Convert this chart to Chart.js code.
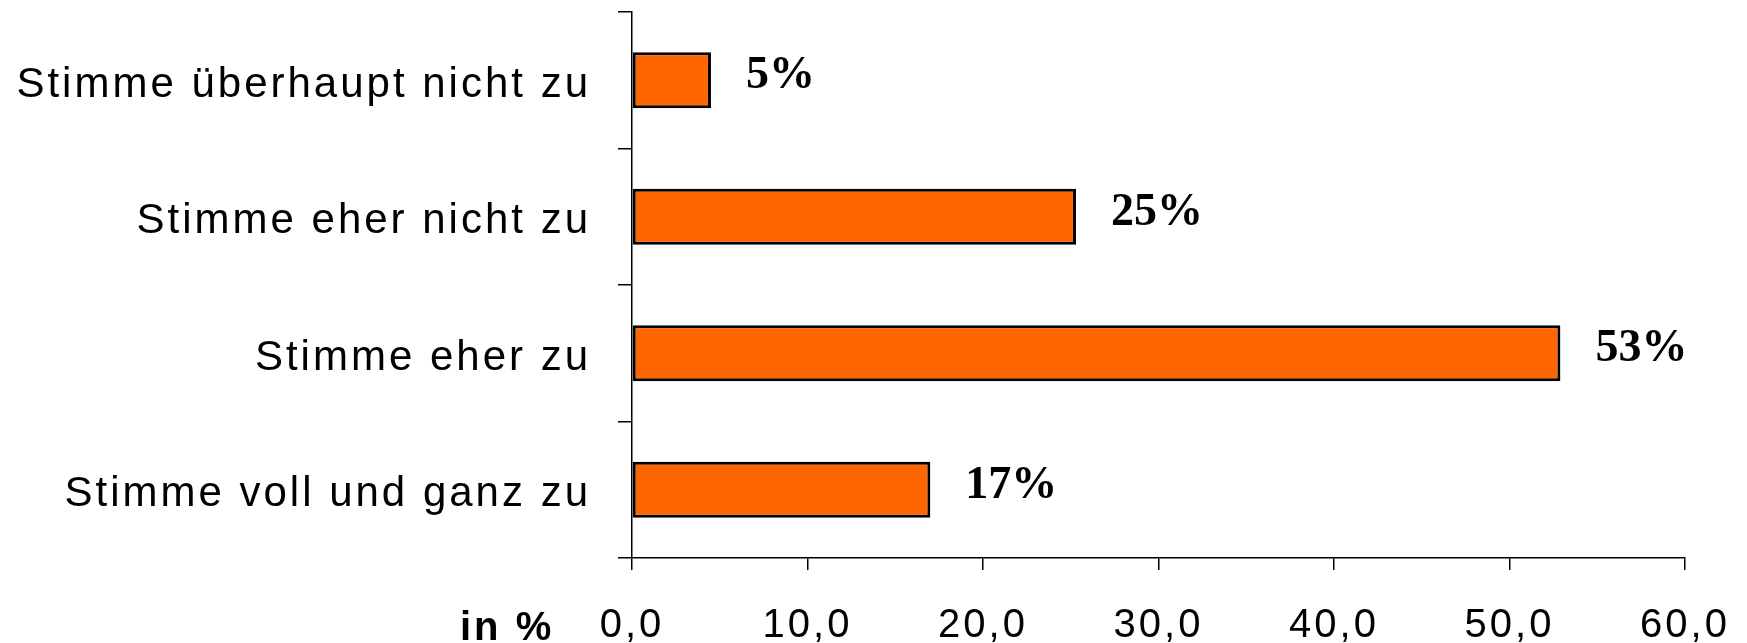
<!DOCTYPE html>
<html>
<head>
<meta charset="utf-8">
<script src="https://cdn.jsdelivr.net/npm/chart.js@4.4.0/dist/chart.umd.min.js"></script>
<style>
  body { margin: 0; background: #fff; }
  canvas { display: block; }
</style>
</head>
<body>
<canvas id="chart" width="1747" height="643"></canvas>
<script>
// Zustimmung in %
const categories = ['Stimme überhaupt nicht zu', 'Stimme eher nicht zu', 'Stimme eher zu', 'Stimme voll und ganz zu'];
const values = [4.5, 25.3, 52.9, 17.0];
const xTicks = [0, 10, 20, 30, 40, 50, 60];
const axisTitle = 'in %';

// value labels + axis title drawn after the chart
const labelPlugin = {
    id: 'labels',
    beforeDraw(chart) {
        chart.ctx.letterSpacing = '3px';
    },
    afterDraw(chart) {
        const ctx = chart.ctx;
        const meta = chart.getDatasetMeta(0);
        ctx.save();
        ctx.letterSpacing = '0px';
        ctx.fillStyle = '#000';
        ctx.font = 'bold 46px "Liberation Serif", "Times New Roman", serif';
        ctx.textAlign = 'left';
        ctx.textBaseline = 'middle';
        meta.data.forEach(function(bar, i) {
            ctx.fillText(Math.round(values[i]) + '%', bar.x + 35, bar.y - 4);
        });

        ctx.letterSpacing = '3px';
        ctx.font = 'bold 40px "Liberation Sans", Arial, sans-serif';
        ctx.textBaseline = 'alphabetic';
        ctx.fillText(axisTitle, 460, 640);
        ctx.restore();
    }
};

const ctx = document.getElementById('chart').getContext('2d');
new Chart(ctx, {
    type: 'bar',
    data: {
        labels: categories,
        datasets: [{
            data: values,
            backgroundColor: '#FF6600',
            borderColor: '#000',
            borderWidth: 3,
            borderSkipped: false,
            barPercentage: 0.41,
            categoryPercentage: 1
        }]
    },
    options: {
        indexAxis: 'y',
        responsive: false,
        animation: false,
        layout: { padding: { top: 12, right: 62, left: 0, bottom: 0 } },
        plugins: {
            legend: { display: false },
            tooltip: { enabled: false }
        },
        scales: {
            x: {
                min: xTicks[0],
                max: xTicks[xTicks.length - 1],
                afterBuildTicks(scale) {
                    scale.ticks = xTicks.map(v => ({ value: v }));
                },
                afterFit(scale) {
                    scale.height = 85;
                    scale.paddingLeft = 0;
                    scale.paddingRight = 0;
                },
                border: { display: true, color: '#000', width: 1.5 },
                grid: { drawOnChartArea: false, drawTicks: true, tickLength: 12, color: '#000', lineWidth: 1.5 },
                ticks: {
                    color: '#000',
                    padding: 32,
                    font: { family: '"Liberation Sans", Arial, sans-serif', size: 40 },
                    callback: v => v.toFixed(1).replace('.', ',')
                }
            },
            y: {
                afterFit(scale) {
                    scale.width = 632;
                    scale.paddingTop = 0;
                    scale.paddingBottom = 0;
                },
                border: { display: true, color: '#000', width: 1.5 },
                grid: { drawOnChartArea: false, drawTicks: true, tickLength: 14, color: '#000', lineWidth: 1.5, offset: true },
                ticks: {
                    color: '#000',
                    padding: 27,
                    labelOffset: 5,
                    font: { family: '"Liberation Sans", Arial, sans-serif', size: 42 }
                }
            }
        }
    },
    plugins: [labelPlugin]
});
</script>
</body>
</html>
